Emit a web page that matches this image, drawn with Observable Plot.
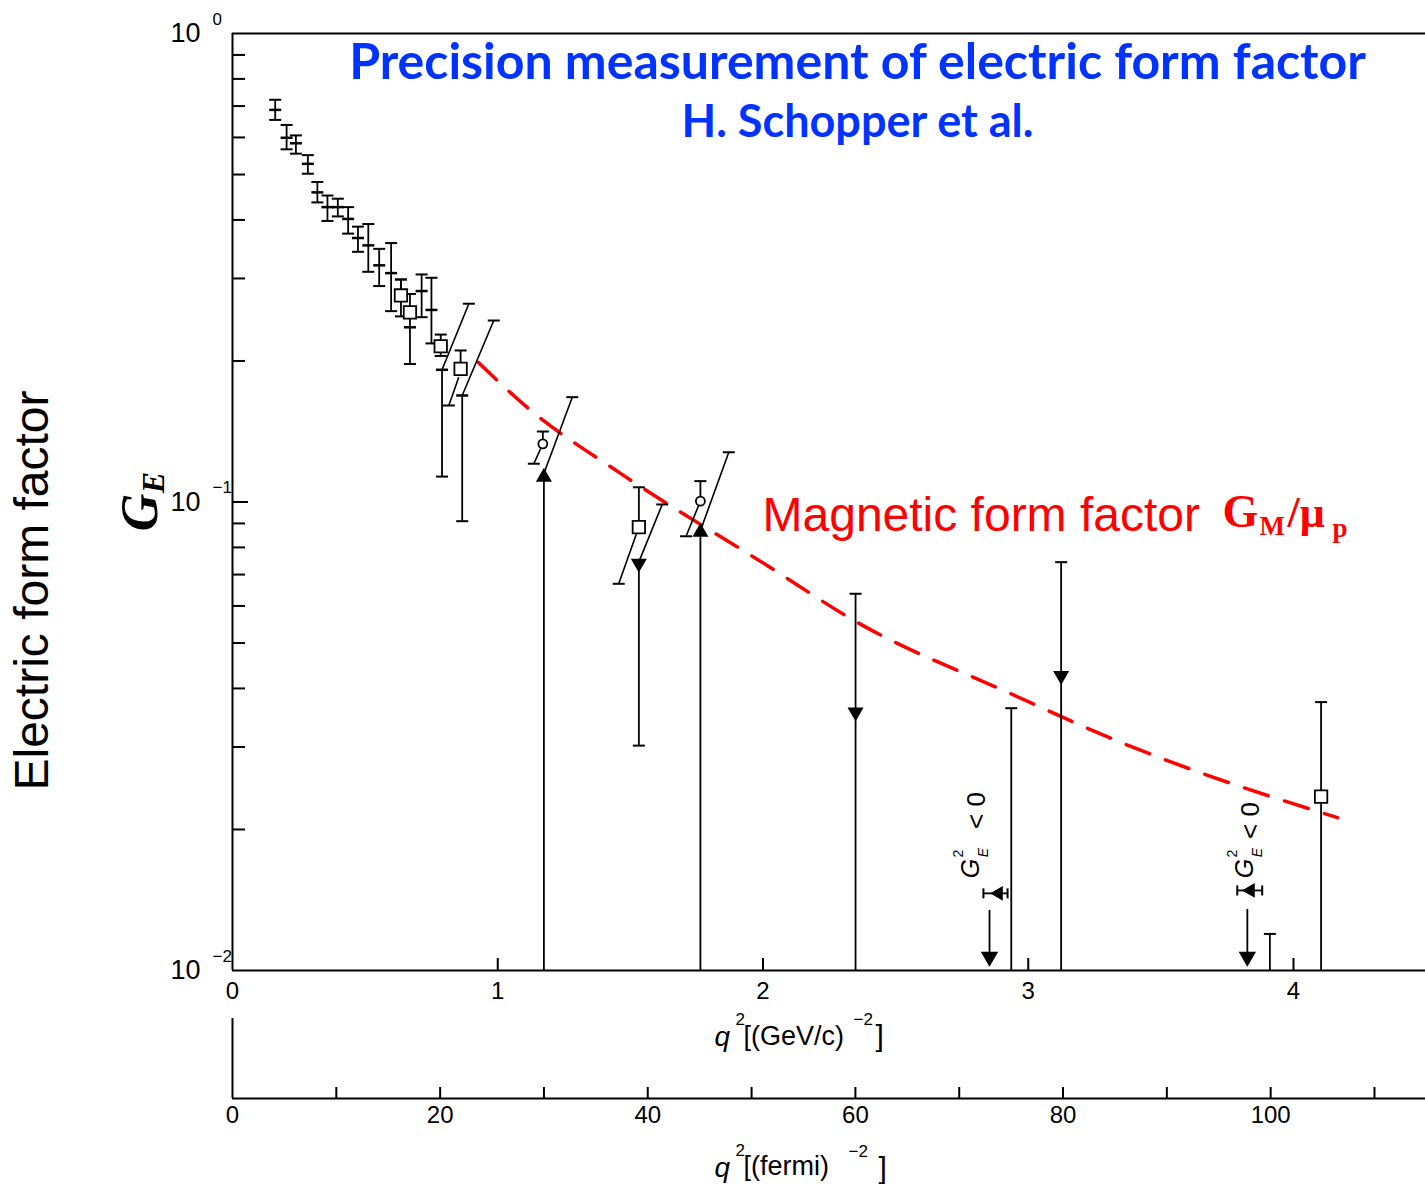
<!DOCTYPE html>
<html><head><meta charset="utf-8">
<script src="https://cdn.jsdelivr.net/npm/d3@7"></script>
<script src="https://cdn.jsdelivr.net/npm/@observablehq/plot@0.6"></script>
<style>body{margin:0;background:#fff}</style>
</head><body><div id="chart"></div>
<script>
// ---------------- data ----------------
// conversion used by the drawn fermi axis: fm^-2 per (GeV/c)^2
const conv = 25.55;

// Rosenbluth-type points marked with "+"
const plusQ  = [0.161,0.204,0.239,0.284,0.320,0.358,0.397,0.436,0.473,0.512,0.553,0.598,0.635,0.669,0.713,0.750,0.790,0.866];
const plusG  = [0.687,0.599,0.583,0.527,0.458,0.426,0.426,0.402,0.366,0.353,0.320,0.308,0.276,0.236,0.282,0.257,0.1915,0.1688];
const plusLo = [0.654,0.566,0.554,0.502,0.436,0.398,0.407,0.374,0.342,0.310,0.289,0.2555,0.249,0.197,0.248,0.218,0.1133,0.0910];
const plusHi = [0.722,0.638,0.606,0.550,0.482,0.451,0.444,0.426,0.387,0.392,0.347,0.357,0.2985,0.254,0.306,0.301,0.1915,0.1688];

// open squares
const squareQ  = [0.635,0.669,0.785,0.860,1.532,4.104];
const squareG  = [0.276,0.254,0.215,0.1924,0.0884,0.0235];
const squareLo = [0.276,0.254,0.205,0.1924,0.0884,0.01];
const squareHi = [0.2985,0.278,0.2277,0.2106,0.1075,0.0374];

// open circles
const circleQ  = [1.170,1.764];
const circleG  = [0.1331,0.1004];
const circleHi = [0.1414,0.1108];

// filled triangles pointing up / down
const upQ   = [1.174,1.764];
const upG   = [0.1130,0.0862];
const upLo  = [0.01,0.01];
const downQ  = [1.532,2.349,3.124];
const downG  = [0.0740,0.0356,0.0426];
const downLo = [0.0302,0.01,0.01];
const downHi = [0.0740,0.0637,0.0744];

// bars without a marker
const barQ  = [2.936,3.911];
const barLo = [0.01,0.01];
const barHi = [0.0363,0.01197];

// slanted (correlated) error lines
const slantQ1 = [0.790,0.866,1.174,1.532,1.764,0.853,1.170,1.532,1.764];
const slantG1 = [0.1915,0.1688,0.1150,0.0745,0.0868,0.1846,0.1331,0.0884,0.1004];
const slantQ2 = [0.891,0.985,1.281,1.620,1.871,0.8155,1.136,1.456,1.710];
const slantG2 = [0.265,0.244,0.1674,0.0988,0.1277,0.1607,0.1207,0.0669,0.0845];

// G_E^2 < 0 points: horizontal error bars and arrows
const hbarQ  = [2.888,3.838];
const hbarQlo = [2.831,3.788];
const hbarQhi = [2.922,3.882];
const hbarG  = [0.01461,0.01482];
const arrowQ   = [2.854,3.826];
const arrowTop = [0.01343,0.01350];
const arrowTip = [0.0107,0.0107];

// magnetic form factor G_M/mu_p (red dashed curve)
const gmQ = [0.927,1.112,1.474,2.017,2.349,2.933,3.348,3.612,4.166];
const gmG = [0.1986,0.159,0.114,0.0731,0.0556,0.0390,0.0307,0.0269,0.0212];

// axes
const yMajor = [1,0.1,0.01];
const yExp = ["0","\u22121","\u22122"];
const yMinor = [0.02,0.03,0.04,0.05,0.06,0.07,0.08,0.09,0.2,0.3,0.4,0.5,0.6,0.7,0.8,0.9];
const gevTicks = [0,1,2,3,4];
const gevInner = [1,2,3,4];
const fermiTicks = [10,20,30,40,50,60,70,80,90,100,110];
const fermiLabels = [0,20,40,60,80,100];

// ---------------- tables ----------------
const plus = plusQ.map((q,i)=>({q,g:plusG[i],lo:plusLo[i],hi:plusHi[i]}));
const squares = squareQ.map((q,i)=>({q,g:squareG[i],lo:squareLo[i],hi:squareHi[i]}));
const circles = circleQ.map((q,i)=>({q,g:circleG[i],lo:circleG[i],hi:circleHi[i]}));
const ups = upQ.map((q,i)=>({q,g:upG[i],lo:upLo[i],hi:upG[i]}));
const downs = downQ.map((q,i)=>({q,g:downG[i],lo:downLo[i],hi:downHi[i]}));
const bare = barQ.map((q,i)=>({q,g:null,lo:barLo[i],hi:barHi[i]}));
const bars = [...plus,...squares,...circles,...ups,...downs,...bare];
const caps = [];
for (const d of bars) {
  if (d.lo > 0.0101 && d.lo !== d.g) caps.push({q:d.q,g:d.lo});
  if (d.hi !== d.g) caps.push({q:d.q,g:d.hi});
}
const slants = slantQ1.map((q,i)=>({q1:q,g1:slantG1[i],q2:slantQ2[i],g2:slantG2[i]}));
const hbars = hbarQ.map((q,i)=>({q,lo:hbarQlo[i],hi:hbarQhi[i],g:hbarG[i]}));
const hcaps = hbars.flatMap(d=>[{q:d.lo,g:d.g},{q:d.hi,g:d.g}]);
const arrows = arrowQ.map((q,i)=>({q,top:arrowTop[i],tip:arrowTip[i]}));
const gm = gmQ.map((q,i)=>({q,g:gmG[i]}));

// ---------------- symbols ----------------
const hline = {draw(ctx,size){const w=Math.sqrt(size/Math.PI);ctx.moveTo(-w,0);ctx.lineTo(w,0);}};
const vline = {draw(ctx,size){const w=Math.sqrt(size/Math.PI);ctx.moveTo(0,-w);ctx.lineTo(0,w);}};

// ---------------- layout ----------------
const W = 1425, H = 1191, mL = 232, mT = 33, mB = 221, mR = 0;
const frameH = H - mT - mB, frameW = W - mL - mR;
const sans = "Liberation Sans, Arial, Helvetica, sans-serif";
const serif = "Liberation Serif, Times New Roman, serif";
const BLUE = "#0033ff", RED = "#ff0000";

function label(text, px, py, o = {}) {
  return Plot.text([text], {text: d => d, frameAnchor: "top-left", dx: px - mL, dy: py - mT,
    textAnchor: "middle", lineAnchor: "middle", fontFamily: sans, fill: "black", ...o});
}

const marks = [
  // frame
  Plot.ruleY([1], {stroke: "black", strokeWidth: 2}),
  Plot.ruleX([0], {stroke: "black", strokeWidth: 2}),
  Plot.ruleY([0.01], {stroke: "black", strokeWidth: 2}),
  Plot.tickY(yMinor, {y: d => d, insetRight: frameW - 13, strokeWidth: 2}),
  Plot.tickY([0.1], {y: d => d, insetRight: frameW - 16, strokeWidth: 2}),
  Plot.tickX(gevInner, {x: d => d, insetTop: frameH - 12, strokeWidth: 2}),
  Plot.axisX({ticks: gevTicks, tickSize: 0, tickPadding: 11, fontSize: 24, fontFamily: sans, label: null, tickFormat: d => String(d)}),
  Plot.axisY({ticks: yMajor, tickSize: 0, tickPadding: 32, fontSize: 27, fontFamily: sans, label: null, tickFormat: () => "10"}),
  Plot.text(yMajor, {y: d => d, frameAnchor: "left", text: (d, i) => yExp[i], dx: -20, dy: -14, fontSize: 17, fontFamily: sans}),
  // fermi axis (secondary scale below)
  Plot.ruleY([0.01], {dy: 128, stroke: "black", strokeWidth: 2}),
  Plot.ruleX([0], {insetTop: frameH - 80, dy: 128, stroke: "black", strokeWidth: 2}),
  Plot.tickX(fermiTicks, {x: f => f / conv, insetTop: frameH - 11, dy: 128, strokeWidth: 2}),
  Plot.text(fermiLabels, {x: f => f / conv, text: f => String(f), frameAnchor: "bottom", dy: 152, fontSize: 24, fontFamily: sans}),
  // magnetic form factor curve
  Plot.line(gm, {x: "q", y: "g", curve: "monotone-x", stroke: RED, strokeWidth: 3.5, strokeDasharray: "25,17"}),
  // error bars
  Plot.ruleX(bars, {x: "q", y1: "lo", y2: "hi", stroke: "black", strokeWidth: 1.8}),
  Plot.link(slants, {x1: "q1", y1: "g1", x2: "q2", y2: "g2", stroke: "black", strokeWidth: 1.6}),
  Plot.dot(caps, {x: "q", y: "g", symbol: hline, r: 6, stroke: "black", strokeWidth: 2}),
  Plot.dot(slants, {x: "q2", y: "g2", symbol: hline, r: 6, stroke: "black", strokeWidth: 2}),
  // markers
  Plot.dot(plus, {x: "q", y: "g", symbol: hline, r: 6, stroke: "black", strokeWidth: 2.5}),
  Plot.dot(squares, {x: "q", y: "g", symbol: "square", r: 7, fill: "white", stroke: "black", strokeWidth: 1.8}),
  Plot.dot(circles, {x: "q", y: "g", symbol: "circle", r: 4.5, fill: "white", stroke: "black", strokeWidth: 1.8}),
  Plot.dot(ups, {x: "q", y: "g", symbol: "triangle", r: 5, fill: "black", stroke: "black"}),
  Plot.dot(downs, {x: "q", y: "g", symbol: "triangle", r: 5, rotate: 180, fill: "black", stroke: "black"}),
  // G_E^2 < 0 markers
  Plot.ruleY(hbars, {y: "g", x1: "lo", x2: "hi", stroke: "black", strokeWidth: 1.8}),
  Plot.dot(hcaps, {x: "q", y: "g", symbol: vline, r: 5, stroke: "black", strokeWidth: 2}),
  Plot.dot(hbars, {x: "q", y: "g", symbol: "triangle", r: 4.5, rotate: -90, fill: "black", stroke: "black"}),
  Plot.ruleX(arrows, {x: "q", y1: "top", y2: "tip", stroke: "black", strokeWidth: 1.8}),
  Plot.dot(arrows, {x: "q", y: "tip", symbol: "triangle", r: 5.5, rotate: 180, fill: "black", stroke: "black"}),
  // annotations
  label("Precision measurement of electric form factor", 857, 62, {fontFamily: "Lato, Calibri, sans-serif", fontWeight: "bold", fontSize: 50, fill: BLUE}),
  label("H. Schopper et al.", 857, 122, {fontFamily: "Lato, Calibri, sans-serif", fontWeight: "bold", fontSize: 45, fill: BLUE}),
  label("Magnetic form factor", 762, 515, {textAnchor: "start", fontSize: 48, fill: RED}),
  label("G", 1222, 512, {textAnchor: "start", fontFamily: serif, fontWeight: "bold", fontSize: 46, fill: RED}),
  label("M", 1259, 526, {textAnchor: "start", fontFamily: serif, fontWeight: "bold", fontSize: 27, fill: RED}),
  label("/\u03bc", 1287, 512, {textAnchor: "start", fontFamily: serif, fontWeight: "bold", fontSize: 44, fill: RED}),
  label("p", 1332, 528, {textAnchor: "start", fontFamily: serif, fontWeight: "bold", fontSize: 27, fill: RED}),
  label("Electric form factor", 32, 590, {rotate: -90, fontSize: 48}),
  label("G", 140, 512, {rotate: -90, fontFamily: serif, fontWeight: "bold", fontStyle: "italic", fontSize: 52}),
  label("E", 153, 482, {rotate: -90, fontFamily: serif, fontWeight: "bold", fontStyle: "italic", fontSize: 32}),
  // G_E^2 < 0 labels
  label("G", 970, 868, {rotate: -90, fontStyle: "italic", fontSize: 25}),
  label("E", 983, 852, {rotate: -90, fontStyle: "italic", fontSize: 14}),
  label("2", 958, 853, {rotate: -90, fontSize: 14}),
  label("< 0", 976, 810, {rotate: -90, fontSize: 26}),
  label("G", 1244, 868, {rotate: -90, fontStyle: "italic", fontSize: 25}),
  label("E", 1257, 852, {rotate: -90, fontStyle: "italic", fontSize: 14}),
  label("2", 1232, 853, {rotate: -90, fontSize: 14}),
  label("< 0", 1250, 820, {rotate: -90, fontSize: 26}),
  // x axis titles
  label("q", 714, 1037, {textAnchor: "start", fontStyle: "italic", fontSize: 28}),
  label("2", 735, 1019, {textAnchor: "start", fontSize: 17}),
  label("[(GeV/c)", 743, 1036, {textAnchor: "start", fontSize: 27}),
  label("\u22122", 853, 1019, {textAnchor: "start", fontSize: 17}),
  label("]", 875, 1036, {textAnchor: "start", fontSize: 30}),
  label("q", 714, 1168, {textAnchor: "start", fontStyle: "italic", fontSize: 28}),
  label("2", 735, 1150, {textAnchor: "start", fontSize: 17}),
  label("[(fermi)", 743, 1166, {textAnchor: "start", fontSize: 27}),
  label("\u22122", 848, 1151, {textAnchor: "start", fontSize: 17}),
  label("]", 878, 1168, {textAnchor: "start", fontSize: 30})
];

const chart = Plot.plot({
  width: W, height: H,
  marginLeft: mL, marginRight: mR, marginTop: mT, marginBottom: mB,
  x: {domain: [0, frameW / 265.25]},
  y: {type: "log", domain: [0.01, 1]},
  style: {fontFamily: sans, background: "white", color: "black"},
  marks
});
document.getElementById("chart").appendChild(chart);
</script>
</body></html>
